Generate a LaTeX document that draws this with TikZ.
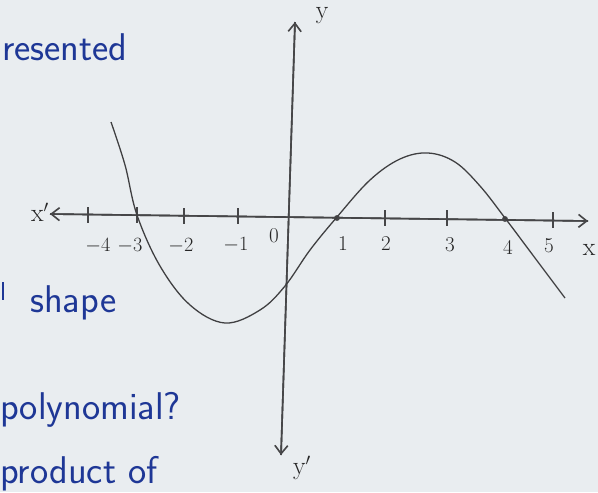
\documentclass[tikz,border=0pt]{standalone}
\usetikzlibrary{arrows.meta}
\definecolor{paper}{RGB}{233,237,240}
\definecolor{ink}{RGB}{30,55,150}
\definecolor{pencil}{RGB}{70,70,72}
\begin{document}
\begin{tikzpicture}[x=0.03cm,y=-0.03cm,
  axis/.style={draw=pencil,line width=1.4pt,-{Straight Barb[length=7pt,width=11pt]}},
  tickmark/.style={draw=pencil,line width=1.3pt},
  curve/.style={draw=pencil!90!black,line width=1.1pt},
  numlab/.style={text=black!85,font=\fontsize{18}{20}\selectfont},
  bluetext/.style={text=ink,anchor=west,inner sep=0pt,font=\fontsize{33}{36}\selectfont\sffamily},
  rootdot/.style={circle,fill=pencil,inner sep=0pt,minimum size=5pt}]
\clip (0,0) rectangle (598,492);
\fill[paper] (0,0) rectangle (598,492);
% axes
\coordinate (xl) at (50,214);
\coordinate (xr) at (588,221);
\coordinate (yt) at (295,22);
\coordinate (yb) at (281,455);
\draw[axis] (xr) -- (xl);
\draw[axis] (xl) -- (xr);
\draw[axis] (yb) -- (yt);
\draw[axis] (yt) -- (yb);
% ticks
\foreach \n/\x/\y in {m4/88/215,m3/137/215,m2/184/216,m1/238/216,p2/385/218,p3/447/218,p5/553/220}{
  \coordinate (t\n a) at (\x,\y-8);
  \coordinate (t\n b) at (\x,\y+8);
  \draw[tickmark] (t\n a) -- (t\n b);
}
% roots
\node[rootdot] (r1) at (337,218) {};
\node[rootdot] (r4) at (505,219) {};
% labels
\node[numlab] (lm4) at (98,246) {$-4$};
\node[numlab] (lm3) at (130,246) {$-3$};
\node[numlab] (lm2) at (181,246) {$-2$};
\node[numlab] (lm1) at (236,245) {$-1$};
\node[numlab] (l0) at (274,236) {0};
\node[numlab] (l1) at (343,244) {1};
\node[numlab] (l2) at (386,244) {2};
\node[numlab] (l3) at (450,245) {3};
\node[numlab] (l4) at (508,247) {4};
\node[numlab] (l5) at (549,246) {5};
\node[numlab,font=\fontsize{22}{24}\selectfont] (xp) at (40,212) {x$'$};
\node[numlab,font=\fontsize{22}{24}\selectfont] (xx) at (589,250) {x};
\node[numlab,font=\fontsize{22}{24}\selectfont] (yy) at (322,16) {y};
\node[numlab,font=\fontsize{22}{24}\selectfont] (yp) at (302,468) {y$'$};
% curve
\draw[curve] plot[smooth,tension=0.6] coordinates {(111,122) (125,165) (137,215) (160,266) (190,305) (225,323) (260,310) (285,286) (310,250) (337,217) (370,180) (400,159) (428,153) (455,162) (480,186) (505,218) (535,258) (565,298)};
% blue text
\node[bluetext] (t1) at (2,47) {resented};
\coordinate (sa) at (3,282);
\coordinate (sb) at (3,300);
\draw[ink,line width=2pt] (sa) -- (sb);
\node[bluetext] (t2) at (30,303) {shape};
\node[bluetext] (t3) at (0,410) {polynomial?};
\node[bluetext] (t4) at (0,474) {product of};
\end{tikzpicture}
\end{document}
